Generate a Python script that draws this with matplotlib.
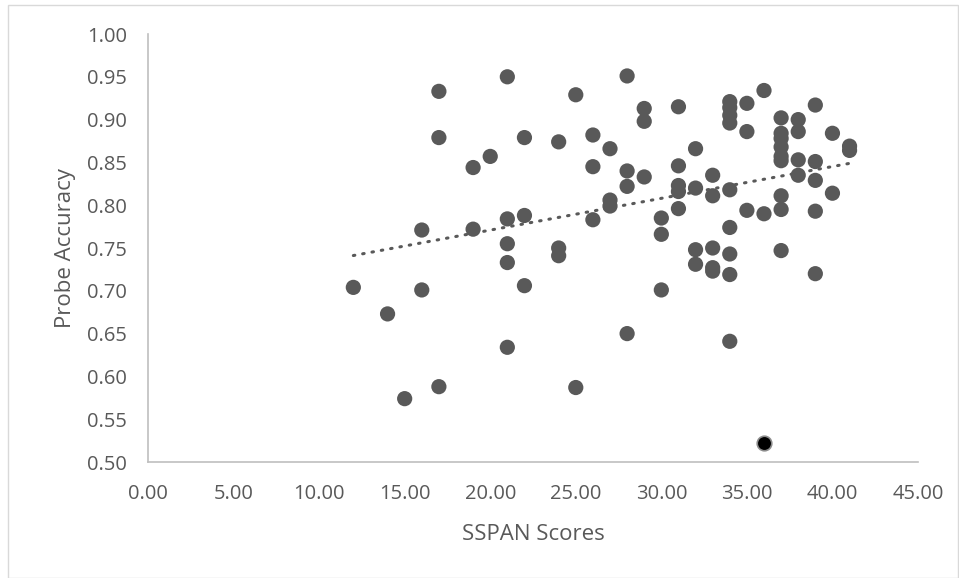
import numpy as np
import matplotlib.pyplot as plt

# SSPAN score vs probe accuracy
sspan = [12, 14, 15, 16, 16, 17, 17, 17, 19, 19,
         20, 21, 21, 21, 21, 21, 22, 22, 22, 24,
         24, 24, 25, 25, 26, 26, 26, 27, 27, 27,
         28, 28, 28, 28, 29, 29, 29, 30, 30, 30,
         31, 31, 31, 31, 31, 32, 32, 32, 32, 33,
         33, 33, 33, 33, 34, 34, 34, 34, 34, 34,
         34, 34, 34, 35, 35, 35, 36, 36, 37, 37,
         37, 37, 37, 37, 37, 37, 37, 38, 38, 38,
         38, 39, 39, 39, 39, 39, 40, 40, 41, 41]
accuracy = [0.704, 0.673, 0.574, 0.771, 0.701, 0.933, 0.879, 0.588, 0.844, 0.772,
            0.857, 0.950, 0.784, 0.755, 0.733, 0.634, 0.879, 0.788, 0.706, 0.874,
            0.750, 0.741, 0.929, 0.587, 0.882, 0.845, 0.783, 0.866, 0.806, 0.799,
            0.951, 0.840, 0.822, 0.650, 0.913, 0.898, 0.833, 0.785, 0.766, 0.701,
            0.915, 0.846, 0.823, 0.816, 0.796, 0.866, 0.820, 0.748, 0.731, 0.835,
            0.811, 0.750, 0.727, 0.723, 0.921, 0.914, 0.905, 0.896, 0.818, 0.774,
            0.743, 0.719, 0.641, 0.919, 0.886, 0.794, 0.934, 0.790, 0.902, 0.884,
            0.878, 0.868, 0.857, 0.852, 0.811, 0.795, 0.747, 0.900, 0.886, 0.853,
            0.835, 0.917, 0.851, 0.829, 0.793, 0.720, 0.884, 0.814, 0.869, 0.864]

# the one highlighted point
outlier_x = [36]
outlier_y = [0.522]

x_ticks = np.arange(0, 45.01, 5)
y_ticks = np.arange(0.50, 1.001, 0.05)

grey = "#595959"

fig = plt.figure(figsize=(9.59, 5.78), dpi=100)
ax = fig.add_axes([148 / 959, 1 - 462 / 578, 770 / 959, 428 / 578])

ax.scatter(sspan, accuracy, s=120, color=grey, edgecolors="none", zorder=3)
ax.scatter(outlier_x, outlier_y, s=110, color="black", edgecolors="#8c8c8c",
           linewidths=1.2, zorder=3)

# linear trend line over the whole series (highlighted point included)
all_x = np.array(sspan + outlier_x)
all_y = np.array(accuracy + outlier_y)
slope, intercept = np.polyfit(all_x, all_y, 1)
tx = np.array([all_x.min(), all_x.max()])
ax.plot(tx, slope * tx + intercept, color=grey, lw=2.2, ls=(0, (0.5, 2.6)),
        dash_capstyle="round", zorder=4)

ax.set_xlim(0, 45)
ax.set_ylim(0.5, 1.0)
ax.set_xticks(x_ticks)
ax.set_yticks(y_ticks)
ax.set_xticklabels(["{:.2f}".format(v) for v in x_ticks])
ax.set_yticklabels(["{:.2f}".format(v) for v in y_ticks])

font = "Open Sans"
ax.tick_params(axis="both", length=0, labelsize=14.5, labelcolor=grey)
ax.tick_params(axis="x", pad=16)
ax.tick_params(axis="y", pad=15)
for lbl in ax.get_xticklabels() + ax.get_yticklabels():
    lbl.set_fontfamily(font)

ax.set_xlabel("SSPAN Scores", fontsize=16, color=grey, family=font, labelpad=14)
ax.set_ylabel("Probe Accuracy", fontsize=16, color=grey, family=font, labelpad=8)

for side in ["top", "right"]:
    ax.spines[side].set_visible(False)
for side in ["left", "bottom"]:
    ax.spines[side].set_color("#bfbfbf")
    ax.spines[side].set_linewidth(1.2)

# light chart-area border like the spreadsheet export
fig.patches.append(plt.Rectangle((8 / 959, 0.5 / 578), 950 / 959, 573 / 578,
                                 transform=fig.transFigure, fill=False,
                                 edgecolor="#d9d9d9", lw=1))

fig.savefig("out.png", dpi=100)
